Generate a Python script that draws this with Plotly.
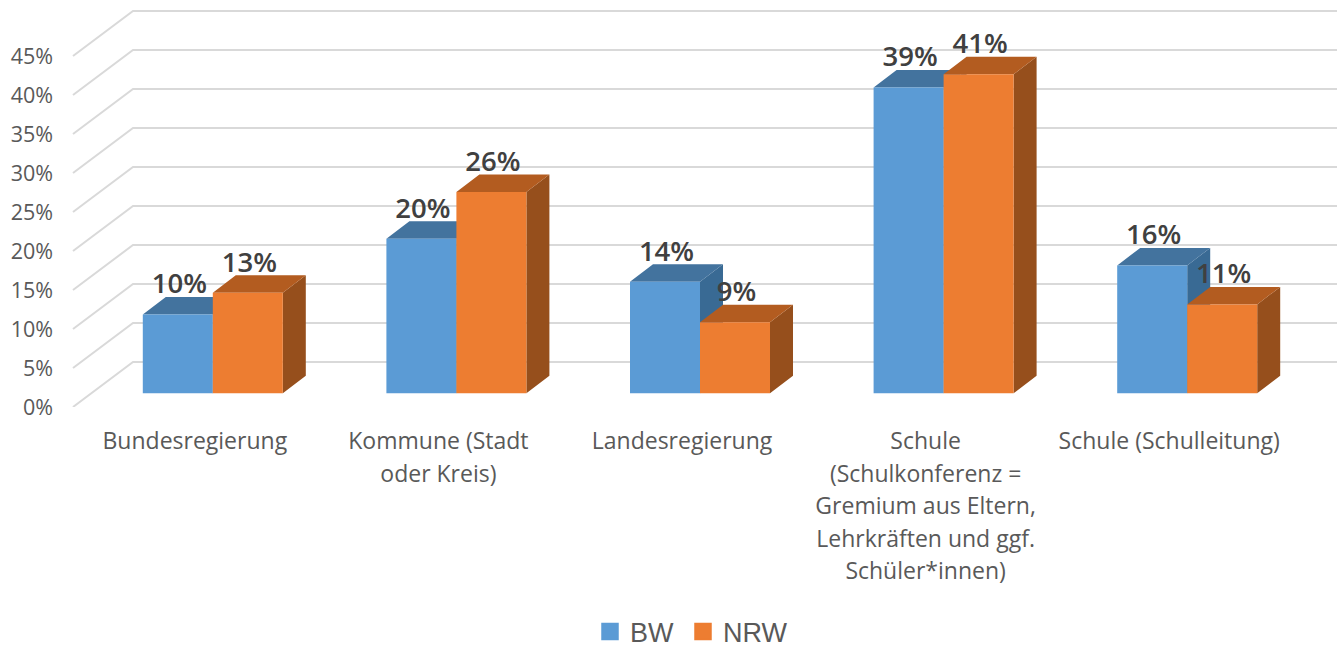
import plotly.graph_objects as go

# ---- data -------------------------------------------------------------
categories = [
    "Bundesregierung",
    "Kommune (Stadt\noder Kreis)",
    "Landesregierung",
    "Schule\n(Schulkonferenz =\nGremium aus Eltern,\nLehrkräften und ggf.\nSchüler*innen)",
    "Schule (Schulleitung)",
]
bw_values = [10.1, 19.8, 14.3, 39.2, 16.4]
nrw_values = [12.9, 25.8, 9.1, 40.9, 11.4]
y_ticks = [0, 5, 10, 15, 20, 25, 30, 35, 40, 45]

# ---- geometry of the pseudo-3D projection ------------------------------
W, H = 1337, 648
ML, MB = 54, 241
PX_X = 243.6   # px per category
PX_Y = 7.8     # px per percent
FLOOR_DX, FLOOR_DY = 60 / PX_X, 45 / PX_Y      # depth of the whole floor
PLANE_DX, PLANE_DY = 18.0 / PX_X, 13.7 / PX_Y  # plane of the bar fronts
BAR_DX, BAR_DY = 23 / PX_X, 17.5 / PX_Y        # depth of one bar
BAR_W = 70 / PX_X
LABEL_UP = 28 / PX_Y
LABEL_RIGHT = 1.5 / PX_X
FONT = "Open Sans"
X0 = -0.5

fig = go.Figure()

# ---- walls -------------------------------------------------------------
gx, gy = [], []
for t in y_ticks:
    gx += [X0, X0 + FLOOR_DX, X0 + 5 + FLOOR_DX, None]
    gy += [t, t + FLOOR_DY, t + FLOOR_DY, None]
fig.add_trace(go.Scatter(x=gx, y=gy, mode="lines", line=dict(color="#D9D9D9", width=2),
                         hoverinfo="skip", showlegend=False, zorder=0))


def add_series(name, values, side_sign, front, top, side, z, legend):
    offset = -BAR_W if side_sign < 0 else 0
    xs, ys = [], []     # side faces
    tx, ty = [], []     # top faces
    for i, v in enumerate(values):
        x_left = i + PLANE_DX + offset
        x_right = x_left + BAR_W
        y_low = PLANE_DY
        y_top = v + PLANE_DY
        xs += [x_right, x_right + BAR_DX, x_right + BAR_DX, x_right, x_right, None]
        ys += [y_low, y_low + BAR_DY, y_top + BAR_DY, y_top, y_low, None]
        tx += [x_left, x_left + BAR_DX, x_right + BAR_DX, x_right, x_left, None]
        ty += [y_top, y_top + BAR_DY, y_top + BAR_DY, y_top, y_top, None]
    fig.add_trace(go.Scatter(x=xs, y=ys, mode="lines", fill="toself", fillcolor=side,
                             line=dict(width=0, color=side), hoverinfo="skip",
                             showlegend=False, zorder=z))
    fig.add_trace(go.Scatter(x=tx, y=ty, mode="lines", fill="toself", fillcolor=top,
                             line=dict(width=0, color=top), hoverinfo="skip",
                             showlegend=False, zorder=z + 1))
    fig.add_trace(go.Bar(x=list(range(len(values))), y=values, base=PLANE_DY, name=name,
                         width=BAR_W, offset=PLANE_DX + offset, marker=dict(color=front, line=dict(width=0)),
                         showlegend=False, zorder=z + 2))
    # legend swatch
    fig.add_trace(go.Scatter(x=[None], y=[None], mode="markers", name=name, legend=legend,
                             showlegend=True,
                             marker=dict(symbol="square", size=16, color=front,
                                         line=dict(width=1.5, color=front))))


add_series("BW", bw_values, -1, "#5B9BD5", "#43739E", "#396A94", 1, "legend")
add_series("NRW", nrw_values, 1, "#ED7D31", "#B35C20", "#964F1C", 4, "legend2")

# ---- data labels -------------------------------------------------------
for values, sign in ((bw_values, -1), (nrw_values, 1)):
    fig.add_trace(go.Scatter(
        x=[i + PLANE_DX + sign * BAR_W / 2 + LABEL_RIGHT for i in range(len(values))],
        y=[v + PLANE_DY + LABEL_UP for v in values],
        text=[f"{round(v)}%" for v in values],
        mode="text", textposition="middle center",
        textfont=dict(family=FONT, size=27.5, color="#404040", weight=600),
        hoverinfo="skip", showlegend=False, zorder=8))

# ---- layout ------------------------------------------------------------
ticktext = ["<br>".join(f'<span style="font-size:23px">{ln}</span>' for ln in c.split("\n"))
            for c in categories]


def legend_at(px_left):
    return dict(orientation="h", x=(px_left - ML) / (W - ML), xanchor="left",
                y=(H - MB - 632) / (H - MB), yanchor="middle",
                font=dict(family="Liberation Sans", size=27, color="#595959"), itemclick=False,
                itemdoubleclick=False, bgcolor="rgba(0,0,0,0)")


fig.update_layout(
    width=W, height=H, autosize=False,
    margin=dict(l=ML, r=0, t=0, b=MB, pad=0, autoexpand=False),
    paper_bgcolor="white", plot_bgcolor="white",
    barmode="overlay",
    font=dict(family=FONT, color="#595959"),
    xaxis=dict(range=[X0 - 19 / PX_X, X0 - 19 / PX_X + (W - ML) / PX_X],
               tickmode="array", tickvals=list(range(len(categories))), ticktext=ticktext,
               tickfont=dict(family=FONT, size=25, color="#595959"),
               ticks="", ticklen=0, showgrid=False, zeroline=False, showline=False,
               ticklabelstandoff=16, tickangle=0, automargin=False),
    yaxis=dict(range=[0, (H - MB) / PX_Y], tickmode="array", tickvals=y_ticks,
               ticktext=[f"{t}%" for t in y_ticks],
               tickfont=dict(family=FONT, size=21.5, color="#595959"),
               ticks="", showgrid=False, zeroline=False, showline=False, automargin=False),
    legend=legend_at(590),
    legend2=legend_at(683),
)

fig.write_html("out.html", config=dict(displayModeBar=False),
               post_script="document.body.style.margin='0';document.body.style.overflow='hidden';")
